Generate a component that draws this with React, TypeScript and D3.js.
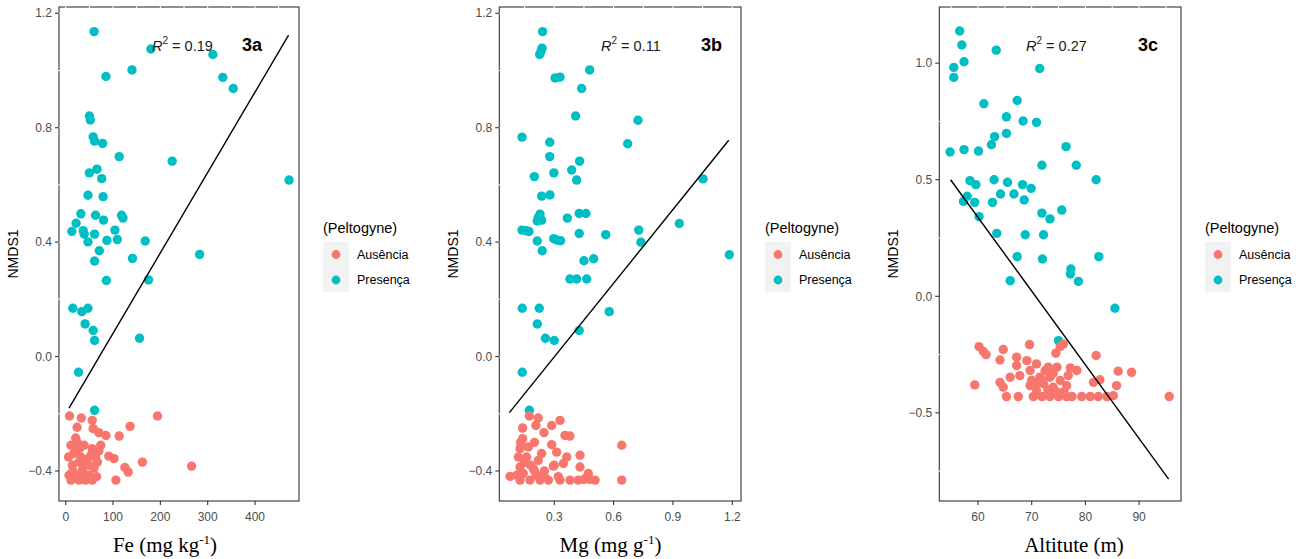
import React from "react";
import * as d3 from "d3";

// ---- data ----
const groups = ["Ausência", "Presença"];
const colors = ["#F8766D", "#00BFC4"];

// 3a : Fe (mg kg-1) vs NMDS1
const feTealX = [60, 180, 311, 140, 85, 332, 354, 50, 52, 58, 61, 78, 113, 225, 66, 50, 76, 472, 47, 79, 32, 63, 118, 121, 22, 80, 13, 37, 39, 61, 104, 47, 87, 109, 168, 71, 141, 283, 61, 86, 175, 15, 34, 47, 41, 58, 61, 156, 27, 61];
const feTealY = [1.136, 1.075, 1.056, 1.002, 0.979, 0.976, 0.937, 0.841, 0.827, 0.768, 0.753, 0.745, 0.699, 0.683, 0.655, 0.642, 0.622, 0.617, 0.564, 0.559, 0.499, 0.494, 0.494, 0.484, 0.466, 0.477, 0.437, 0.44, 0.428, 0.428, 0.442, 0.401, 0.406, 0.409, 0.404, 0.37, 0.343, 0.357, 0.334, 0.266, 0.268, 0.169, 0.157, 0.169, 0.114, 0.091, 0.056, 0.064, -0.055, -0.188];
const feSalmonX = [8, 33, 56, 24, 58, 70, 85, 113, 136, 194, 11, 24, 39, 74, 56, 17, 53, 91, 102, 14, 28, 42, 67, 162, 125, 132, 266, 7, 24, 49, 11, 28, 42, 56, 106, 35, 6, 32, 63, 21, 20, 30, 45, 60, 15, 35, 50, 70, 65];
const feSalmonY = [-0.208, -0.215, -0.223, -0.247, -0.252, -0.266, -0.276, -0.278, -0.244, -0.208, -0.31, -0.299, -0.31, -0.31, -0.322, -0.339, -0.345, -0.348, -0.357, -0.38, -0.369, -0.38, -0.369, -0.369, -0.388, -0.404, -0.383, -0.415, -0.415, -0.415, -0.432, -0.432, -0.432, -0.432, -0.432, -0.398, -0.351, -0.351, -0.351, -0.285, -0.33, -0.32, -0.36, -0.39, -0.4, -0.42, -0.38, -0.33, -0.42];
const feFitX = [7, 471];
const feFitY = [-0.18, 1.124];

// 3b : Mg (mg g-1) vs NMDS1
const mgTealX = [0.241, 0.238, 0.233, 0.226, 0.479, 0.304, 0.329, 0.438, 0.408, 0.723, 0.137, 0.671, 0.277, 0.277, 0.428, 0.298, 0.388, 0.413, 0.199, 1.052, 0.236, 0.278, 0.228, 0.219, 0.236, 0.214, 0.366, 0.426, 0.46, 0.137, 0.157, 0.172, 0.426, 0.56, 0.727, 0.738, 0.932, 0.214, 0.297, 0.315, 0.332, 0.239, 0.45, 0.499, 1.185, 0.379, 0.413, 0.464, 0.138, 0.224, 0.578, 0.214, 0.426, 0.255, 0.3, 0.138, 0.174];
const mgTealY = [1.136, 1.078, 1.067, 1.056, 1.002, 0.974, 0.977, 0.937, 0.841, 0.826, 0.767, 0.744, 0.749, 0.699, 0.683, 0.642, 0.652, 0.617, 0.629, 0.621, 0.561, 0.565, 0.498, 0.486, 0.477, 0.474, 0.484, 0.5, 0.5, 0.442, 0.44, 0.437, 0.43, 0.426, 0.442, 0.4, 0.465, 0.404, 0.412, 0.407, 0.405, 0.37, 0.335, 0.342, 0.356, 0.271, 0.271, 0.271, 0.169, 0.169, 0.157, 0.114, 0.091, 0.064, 0.056, -0.055, -0.188];
const mgSalmonX = [0.174, 0.219, 0.329, 0.287, 0.207, 0.14, 0.248, 0.354, 0.379, 0.14, 0.641, 0.287, 0.127, 0.169, 0.312, 0.236, 0.118, 0.16, 0.43, 0.363, 0.219, 0.346, 0.295, 0.43, 0.127, 0.194, 0.076, 0.143, 0.472, 0.127, 0.177, 0.228, 0.27, 0.329, 0.379, 0.421, 0.506, 0.641, 0.11, 0.211, 0.2, 0.46, 0.25, 0.15, 0.13, 0.15, 0.2, 0.25, 0.18, 0.3, 0.32, 0.45, 0.48];
const mgSalmonY = [-0.208, -0.215, -0.223, -0.241, -0.241, -0.25, -0.266, -0.276, -0.278, -0.287, -0.31, -0.308, -0.322, -0.316, -0.334, -0.339, -0.351, -0.351, -0.345, -0.351, -0.363, -0.374, -0.383, -0.386, -0.386, -0.392, -0.419, -0.409, -0.409, -0.432, -0.432, -0.432, -0.432, -0.432, -0.432, -0.432, -0.432, -0.432, -0.415, -0.415, -0.3, -0.425, -0.4, -0.37, -0.3, -0.36, -0.4, -0.42, -0.38, -0.38, -0.42, -0.43, -0.43];
const mgFitX = [0.073, 1.182];
const mgFitY = [-0.196, 0.756];

// 3c : Altitude (m) vs NMDS1
const altTealX = [56.6, 57, 57.4, 55.5, 55.5, 63.4, 71.5, 61.1, 67.3, 65.3, 68.4, 70.9, 65.3, 63.1, 62.5, 54.8, 57.4, 60.1, 76.4, 71.9, 78.3, 82, 58.5, 59.6, 63, 65.5, 68.3, 69.9, 64.2, 66.7, 58, 57.3, 59.4, 62.7, 68.6, 71.9, 73.4, 75.6, 60.2, 63.5, 68.8, 72.2, 67.3, 72, 82.5, 77.3, 77.2, 66, 78.7, 85.5, 75];
const altTealY = [1.138, 1.078, 1.006, 0.982, 0.939, 1.056, 0.977, 0.826, 0.84, 0.77, 0.752, 0.746, 0.699, 0.685, 0.65, 0.619, 0.629, 0.623, 0.642, 0.562, 0.562, 0.5, 0.496, 0.479, 0.5, 0.489, 0.479, 0.463, 0.439, 0.439, 0.429, 0.407, 0.403, 0.403, 0.413, 0.357, 0.332, 0.37, 0.342, 0.27, 0.264, 0.264, 0.17, 0.16, 0.17, 0.117, 0.096, 0.067, 0.064, -0.051, -0.19];
const altSalmonX = [60.2, 61, 61.5, 64.7, 69.6, 64.1, 67.2, 74.5, 75.3, 75.9, 82, 69.1, 70.9, 67.2, 73.1, 74.7, 77.2, 78.4, 86.1, 88.6, 69.7, 66, 67.8, 71.5, 73.4, 76.8, 75.3, 82.7, 59.4, 64.1, 64.7, 69.7, 72.2, 74, 76.5, 85.8, 81.5, 65.3, 67.5, 70.3, 71.9, 73.4, 75, 76.5, 79.3, 80.9, 82.4, 84, 85.2, 95.6, 70.9, 74.7, 72.5, 71, 73.8, 76, 72, 74, 73, 71, 76, 77.5, 70];
const altSalmonY = [-0.216, -0.236, -0.25, -0.228, -0.207, -0.273, -0.261, -0.244, -0.216, -0.204, -0.254, -0.276, -0.29, -0.297, -0.304, -0.304, -0.307, -0.318, -0.321, -0.326, -0.318, -0.347, -0.34, -0.347, -0.347, -0.34, -0.361, -0.358, -0.38, -0.369, -0.39, -0.383, -0.375, -0.39, -0.383, -0.383, -0.369, -0.43, -0.43, -0.43, -0.43, -0.43, -0.43, -0.43, -0.43, -0.43, -0.43, -0.43, -0.426, -0.43, -0.404, -0.411, -0.32, -0.37, -0.4, -0.41, -0.36, -0.33, -0.4, -0.42, -0.42, -0.43, -0.36];
const altFitX = [54.9, 95.5];
const altFitY = [0.5, -0.784];

const feTicks = [0, 100, 200, 300, 400];
const mgTicks = [0.3, 0.6, 0.9, 1.2];
const altTicks = [60, 70, 80, 90];
const nmdsTicksAB = [-0.4, 0, 0.4, 0.8, 1.2];
const nmdsTicksC = [-0.5, 0, 0.5, 1.0];

const panels = [
  {
    id: "3a", r2: "0.19", title: "Fe (mg kg", sup: "-1", after: ")",
    xDomain: [-14.2, 493], yDomain: [-0.505, 1.222],
    xTicks: feTicks, yTicks: nmdsTicksAB, xFmt: d3.format("d"), yFmt: d3.format(".1f"),
    left: 59, right: 299, titleX: 165,
    teal: [feTealX, feTealY], salmon: [feSalmonX, feSalmonY], fit: [feFitX, feFitY],
    r2X: 152, labX: 242,
  },
  {
    id: "3b", r2: "0.11", title: "Mg (mg g", sup: "-1", after: ")",
    xDomain: [0.022, 1.244], yDomain: [-0.505, 1.222],
    xTicks: mgTicks, yTicks: nmdsTicksAB, xFmt: d3.format(".1f"), yFmt: d3.format(".1f"),
    left: 499.3, right: 741, titleX: 610.5,
    teal: [mgTealX, mgTealY], salmon: [mgSalmonX, mgSalmonY], fit: [mgFitX, mgFitY],
    r2X: 601, labX: 701,
  },
  {
    id: "3c", r2: "0.27", title: "Altitute (m)", sup: "", after: "",
    xDomain: [52.8, 97.8], yDomain: [-0.878, 1.241],
    xTicks: altTicks, yTicks: nmdsTicksC, xFmt: d3.format("d"), yFmt: d3.format(".1f"),
    left: 939.3, right: 1181, titleX: 1074,
    teal: [altTealX, altTealY], salmon: [altSalmonX, altSalmonY], fit: [altFitX, altFitY],
    r2X: 1026, labX: 1138,
  },
];

const TOP = 7;
const BOTTOM = 501;
const R = 4.7;
const SANS = "'Liberation Sans', Arial, sans-serif";
const SERIF = "'Liberation Serif', 'Times New Roman', serif";

// gridline positions (majors + halfway minors) inside the domain
function gridValues(ticks, domain) {
  const step = ticks[1] - ticks[0];
  const out = [];
  for (let v = ticks[0] - step * 4; v <= ticks[ticks.length - 1] + step * 4; v += step / 2) {
    if (v > domain[0] && v < domain[1]) out.push(v);
  }
  return out;
}

function Panel({ p }) {
  const x = d3.scaleLinear().domain(p.xDomain).range([p.left, p.right]);
  const y = d3.scaleLinear().domain(p.yDomain).range([BOTTOM, TOP]);
  const line = d3.line().x((d) => x(d[0])).y((d) => y(d[1]));
  const fitPts = p.fit[0].map((v, i) => [v, p.fit[1][i]]);
  const gx = gridValues(p.xTicks, p.xDomain);
  const step = p.yTicks[1] - p.yTicks[0];
  const gy = gridValues(p.yTicks, p.yDomain).filter(
    (v) => Math.abs(((v - p.yTicks[0]) / step) % 1) > 0.1
  );
  const midY = (TOP + BOTTOM) / 2;
  const legX = p.right + 24;

  return (
    <g>
      {/* points: presence first, absence on top */}
      {p.teal[0].map((v, i) => (
        <circle key={"t" + i} cx={x(v)} cy={y(p.teal[1][i])} r={R} fill={colors[1]} />
      ))}
      {p.salmon[0].map((v, i) => (
        <circle key={"s" + i} cx={x(v)} cy={y(p.salmon[1][i])} r={R} fill={colors[0]} />
      ))}
      <path d={line(fitPts)} stroke="#000" strokeWidth={1.4} fill="none" />

      {/* panel border */}
      <rect x={p.left} y={TOP} width={p.right - p.left} height={BOTTOM - TOP}
        fill="none" stroke="#333" strokeWidth={1.1} />
      {gx.map((v, i) => (
        <line key={"gx" + i} x1={x(v)} x2={x(v)} y1={TOP - 1} y2={TOP + 1} stroke="#fff" strokeWidth={1} />
      ))}
      {gy.map((v, i) => (
        <line key={"gy" + i} x1={p.left - 1} x2={p.left + 1} y1={y(v)} y2={y(v)} stroke="#fff" strokeWidth={1} />
      ))}

      {/* axes */}
      {p.yTicks.map((v) => (
        <g key={"yt" + v}>
          <line x1={p.left - 4} x2={p.left} y1={y(v)} y2={y(v)} stroke="#333" strokeWidth={1.1} />
          <text x={p.left - 7} y={y(v)} dy="0.35em" textAnchor="end" fontSize={12}
            fontFamily={SANS} fill="#4D4D4D">{p.yFmt(v)}</text>
        </g>
      ))}
      {p.xTicks.map((v) => (
        <g key={"xt" + v}>
          <line x1={x(v)} x2={x(v)} y1={BOTTOM} y2={BOTTOM + 4} stroke="#333" strokeWidth={1.1} />
          <text x={x(v)} y={BOTTOM + 20} textAnchor="middle" fontSize={12}
            fontFamily={SANS} fill="#4D4D4D">{p.xFmt(v)}</text>
        </g>
      ))}
      <text transform={`translate(${p.left - 41},${midY}) rotate(-90)`} textAnchor="middle"
        fontSize={14} fontFamily={SANS} fill="#000">NMDS1</text>
      <text x={p.titleX} y={552} textAnchor="middle" fontSize={21} fontFamily={SERIF} fill="#000">
        {p.title}
        {p.sup && <tspan dy={-8} fontSize={13}>{p.sup}</tspan>}
        {p.after && <tspan dy={8}>{p.after}</tspan>}
      </text>

      {/* annotations */}
      <text x={p.r2X} y={51} fontSize={14.5} fontFamily={SANS} fill="#1a1a1a">
        <tspan fontStyle="italic">R</tspan>
        <tspan dy={-7} fontSize={10}>2</tspan>
        <tspan dy={7}>{" = " + p.r2}</tspan>
      </text>
      <text x={p.labX} y={51} fontSize={18} fontWeight="bold" fontFamily={SANS} fill="#000">{p.id}</text>

      {/* legend */}
      <text x={legX} y={233} fontSize={14.5} fontFamily={SANS} fill="#000">(Peltogyne)</text>
      {groups.map((g, i) => (
        <g key={g}>
          <rect x={legX} y={242 + i * 25} width={26} height={25} fill="#F2F2F2" />
          <circle cx={legX + 13} cy={254.5 + i * 25.5} r={4.4} fill={colors[i]} />
          <text x={legX + 34} y={254.5 + i * 25.5} dy="0.35em" fontSize={12.5}
            fontFamily={SANS} fill="#000">{g}</text>
        </g>
      ))}
    </g>
  );
}

export default function App() {
  return (
    <svg width={1308} height={559} style={{ position: "absolute", left: 0, top: 0, background: "#fff" }}>
      <rect width={1308} height={559} fill="#fff" />
      {panels.map((p) => (
        <Panel key={p.id} p={p} />
      ))}
    </svg>
  );
}
